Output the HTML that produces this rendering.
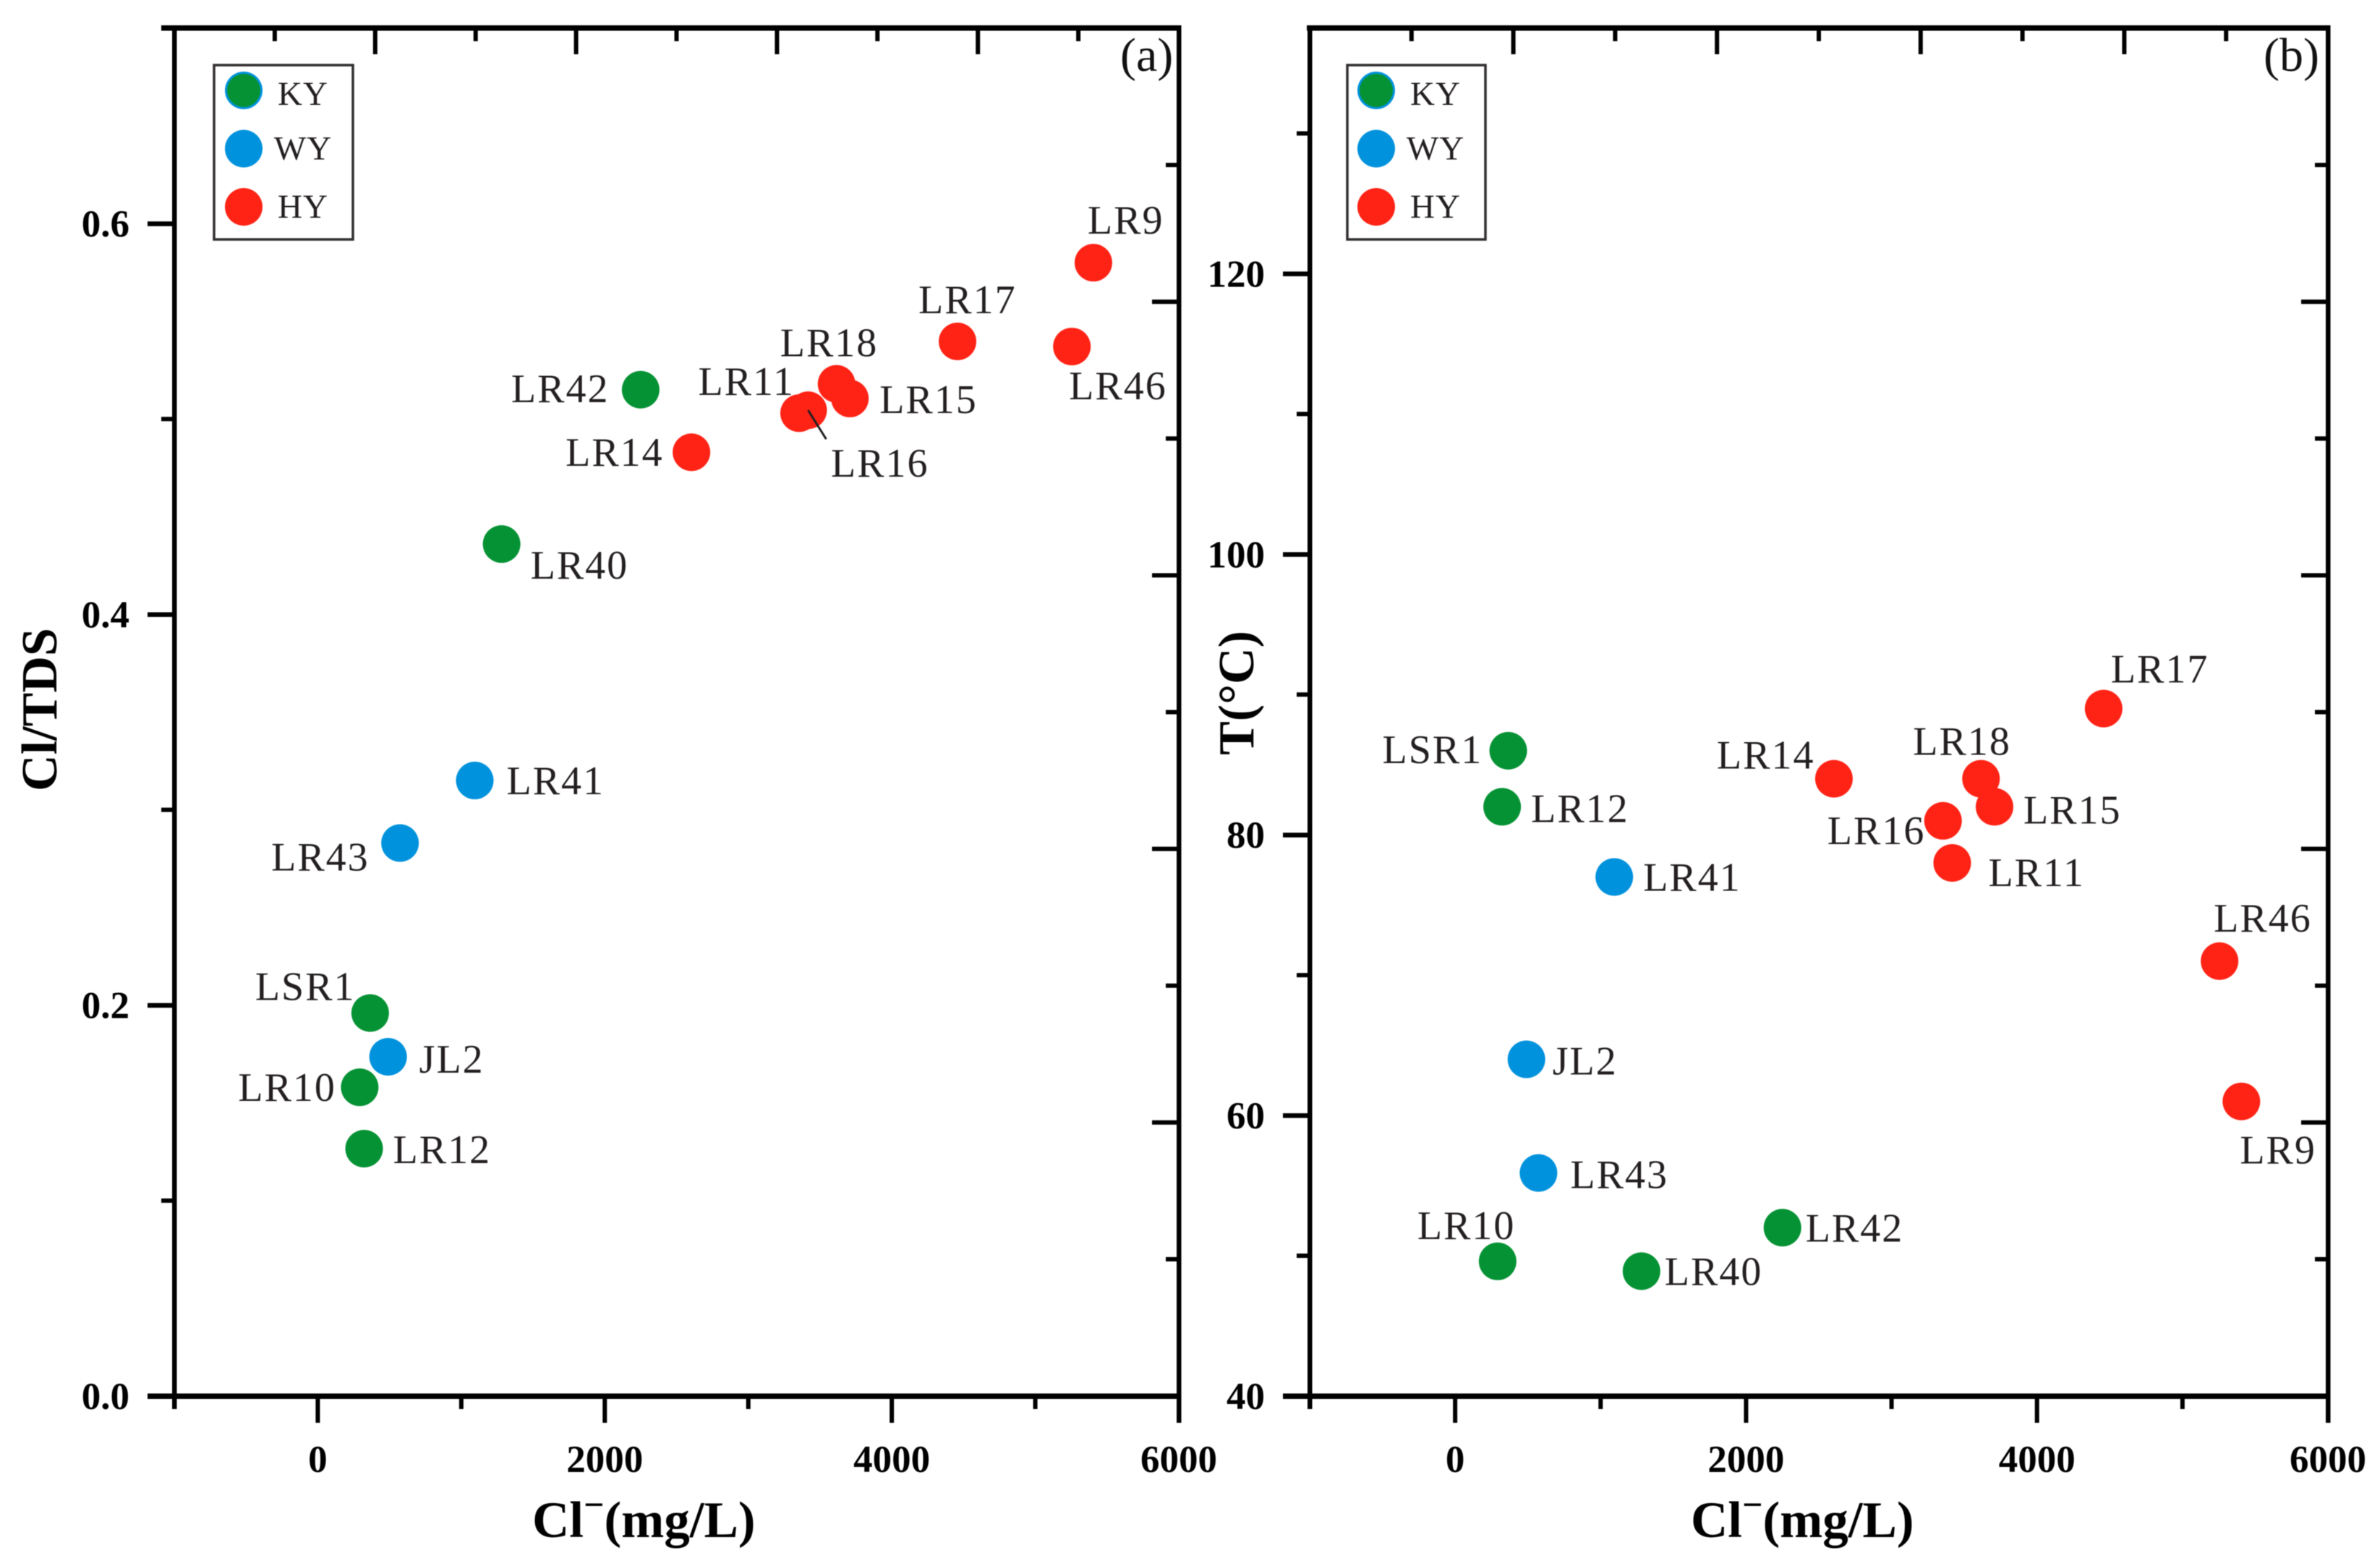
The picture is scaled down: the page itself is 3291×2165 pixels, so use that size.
<!DOCTYPE html>
<html lang="en">
<head>
<meta charset="utf-8">
<title>Cl/TDS and temperature versus chloride</title>
<style>
html,body{margin:0;padding:0;background:#fff;width:3291px;height:2165px;overflow:hidden}
svg{display:block;filter:blur(0.6px)}
text{font-family:"Liberation Serif",serif}
.tick-label{font-size:53px;font-weight:bold;fill:#000}
.axis-title{font-size:71px;font-weight:bold;fill:#000}
.point-label{font-size:56px;letter-spacing:2px;fill:#231f20}
.legend-text{font-size:47px;letter-spacing:1px;fill:#231f20}
.panel-tag{font-size:66px;fill:#111}
</style>
</head>
<body>
<svg id="chart" xmlns="http://www.w3.org/2000/svg" width="3291" height="2165" viewBox="0 0 3291 2165">
  <rect x="0" y="0" width="3291" height="2165" fill="#ffffff"/>
  <g id="panel-a"></g>
  <g id="panel-b"></g>
</svg>
<script>
// ---- data ----
const sites = ['LR9','LR17','LR46','LR18','LR15','LR11','LR16','LR14','LR42','LR40','LR41','LR43','JL2','LSR1','LR12','LR10'];
const siteTypes = ['HY','HY','HY','HY','HY','HY','HY','HY','KY','KY','WY','WY','WY','KY','KY','KY'];
const chloride = [5405,4458,5255,3615,3708,3417,3354,2604,2250,1281,1094,573,490,365,323,292];
const clTdsRatio = [0.580,0.5397,0.5371,0.518,0.5105,0.5045,0.503,0.483,0.515,0.436,0.315,0.283,0.1736,0.196,0.1266,0.158];
const temperature = [61,89,71,84,82,78,81,84,52,48.9,77,55.9,64,86,82,49.6];
const legendTypes = ['KY','WY','HY'];

// ---- tick values ----
const xMajorTicks = [0,2000,4000,6000];
const xMinorTicks = [-1000,1000,3000,5000];
const topMajorTicks = [400,1800,3200,4600];
const topMinorTicks = [-300,1100,2500,3900,5300];
const ratioMajorTicks = [0,0.2,0.4,0.6];
const ratioMajorLabels = ['0.0','0.2','0.4','0.6'];
const ratioMinorTicks = [0.1,0.3,0.5];
const ratioRightMajorTicks = [0.14,0.28,0.42,0.56];
const ratioRightMinorTicks = [0.07,0.21,0.35,0.49,0.63];
const tempMajorTicks = [40,60,80,100,120];
const tempMajorLabels = ['40','60','80','100','120'];
const tempMinorTicks = [50,70,90,110,130];
const tempRightMajorTicks = [59.5,79,98.5,118];
const tempRightMinorTicks = [49.75,69.25,88.75,108.25,127.75];

// ---- layout (not data) ----
const colors = {KY:'#059234', WY:'#0092dd', HY:'#ff2316'};
const legendBaselineOffset = {KY:20, WY:15, HY:15};
const labelPlacementA = {LR9:[-8,-40],LR17:[-54,-39],LR46:[-4,73],LR18:[-78,-38],LR15:[41,20],LR11:[-152,-21],LR16:[44,88],LR14:[-174,19],LR42:[-179,17],LR40:[40,48],LR41:[44,19],LR43:[-178,38],LSR1:[-159,-18],JL2:[43,22],LR10:[-168,19],LR12:[40,20]};
const labelPlacementB = {LR9:[-2,86],LR46:[-8,-41],LR17:[10,-36],LR18:[-94,-33],LR15:[40,23],LR14:[-162,-14],LR16:[-160,32],LR11:[50,32],LSR1:[-174,17],LR12:[40,21],LR41:[40,19],JL2:[36,21],LR43:[44,21],LR10:[-111,-31],LR42:[32,19],LR40:[32,19]};
const plotTop = 39, plotBottom = 1930;
const SVGNS = 'http://www.w3.org/2000/svg';

function make(parent, tag, attrs, content) {
  const el = document.createElementNS(SVGNS, tag);
  for (const k in attrs) el.setAttribute(k, attrs[k]);
  if (content !== undefined) el.textContent = content;
  parent.appendChild(el);
  return el;
}
function linearScale(d0, d1, r0, r1) {
  return v => r0 + (v - d0) * (r1 - r0) / (d1 - d0);
}

function drawPanel(cfg) {
  const g = document.getElementById(cfg.id);
  const x = linearScale(-1000, 6000, cfg.left, cfg.right);
  const y = linearScale(cfg.yMin, cfg.yMax, plotBottom, plotTop);

  // spines
  const topSpine = make(g, 'rect', {x: cfg.topSpineStart, y: plotTop-4, width: cfg.right+3-cfg.topSpineStart, height: 7.5, fill:'#000'});
  
  
  const bottomSpine = make(g, 'rect', {x: cfg.left-37, y: plotBottom-3.5, width: cfg.right+3-cfg.left+37, height: 7.5, fill:'#000'});
  
  
  const leftSpine = make(g, 'rect', {x: cfg.left-3, y: plotTop-4, width: 6.5, height: 1948-plotTop+4, fill:'#000'});
  
  
  const rightSpine = make(g, 'rect', {x: cfg.right-3, y: plotTop-4, width: 6.5, height: 1967-plotTop+4, fill:'#000'});
  
  

  // bottom ticks
  xMajorTicks.forEach(v => {
    const t = make(g, 'rect', {x: x(v)-3, y: plotBottom, width: 6, height: 37, fill:'#000'});
    
    
    const l = make(g, 'text', {x: x(v), y: 2035, 'text-anchor':'middle', class:'tick-label'}, String(v));
    
    
  });
  xMinorTicks.forEach(v => {
    const t = make(g, 'rect', {x: x(v)-3, y: plotBottom, width: 6, height: 18, fill:'#000'});
    
    
  });
  // top ticks
  topMajorTicks.forEach(v => {
    const t = make(g, 'rect', {x: x(v)-3, y: plotTop, width: 6, height: 36, fill:'#000'});
    
    
  });
  topMinorTicks.forEach(v => {
    const t = make(g, 'rect', {x: x(v)-3, y: plotTop, width: 6, height: 18, fill:'#000'});
    
    
  });
  // left ticks
  cfg.yMajor.forEach((v, i) => {
    const t = make(g, 'rect', {x: cfg.left-37, y: y(v)-3, width: 37, height: 6.5, fill:'#000'});
    
    
    const l = make(g, 'text', {x: cfg.left-62, y: y(v)+18, 'text-anchor':'end', class:'tick-label'}, cfg.yLabels[i]);
    
    
  });
  cfg.yMinor.forEach(v => {
    const t = make(g, 'rect', {x: cfg.left-18, y: y(v)-3, width: 18, height: 6, fill:'#000'});
    
    
  });
  // right ticks
  cfg.rightMajor.forEach(v => {
    const t = make(g, 'rect', {x: cfg.right-37, y: y(v)-3, width: 37, height: 6, fill:'#000'});
    
    
  });
  cfg.rightMinor.forEach(v => {
    const t = make(g, 'rect', {x: cfg.right-18, y: y(v)-3, width: 18, height: 6, fill:'#000'});
    
    
  });

  // axis titles
  const xt = make(g, 'text', {x: cfg.xTitleX, y: 2125, class:'axis-title'});
  
  
  make(xt, 'tspan', {}, 'Cl');
  make(xt, 'tspan', {dy: -28, style: 'font-size:50px'}, '\u2212');
  make(xt, 'tspan', {dy: 28}, '(mg/L)');
  const yt = make(g, 'text', {x: 0, y: 0, 'text-anchor':'middle', class:'axis-title', style:'font-size:70px', transform:'translate(' + cfg.yTitleX + ' ' + cfg.yTitleY + ') rotate(-90)'}, cfg.yTitle);
  
  

  // panel tag
  const tag = make(g, 'text', {x: cfg.tagX, y: 98, class:'panel-tag'}, cfg.tag);
  
  

  // legend
  const box = make(g, 'rect', {x: cfg.legendX, y: 90, width: cfg.legendW, height: 241, fill:'#fff', stroke:'#332f30', 'stroke-width': 3.5});
  
  
  legendTypes.forEach((type, i) => {
    const cy = 125 + i * 80.5;
    const cx = cfg.legendX + cfg.legendMarkerOffset;
    const halo = make(g, 'circle', {cx: cx, cy: cy, r: 26, fill: type === 'HY' ? colors.HY : colors.WY});
    
    
    if (type === 'KY') {
      const m = make(g, 'circle', {cx: cx, cy: cy, r: 23, fill: colors.KY});
      
      
    }
    const t = make(g, 'text', {x: cx + 82, y: cy + legendBaselineOffset[type], 'text-anchor':'middle', class:'legend-text'}, type);
    
    
  });

  // points
  sites.forEach((site, i) => {
    const c = make(g, 'circle', {cx: x(chloride[i]), cy: y(cfg.values[i]), r: 26, fill: colors[siteTypes[i]]});
    
    
  });
  // leader line for the crowded cluster in panel (a)
  if (cfg.leaderSite) {
    const i = sites.indexOf(cfg.leaderSite);
    const lx = x(chloride[i]), ly = y(cfg.values[i]);
    const leader = make(g, 'line', {x1: lx, y1: ly, x2: lx + 25, y2: ly + 40, stroke:'#231f20', 'stroke-width': 3});
    
    
  }
  // point labels
  sites.forEach((site, i) => {
    const p = cfg.placement[site];
    const t = make(g, 'text', {x: x(chloride[i]) + p[0], y: y(cfg.values[i]) + p[1], class:'point-label'}, site);
    
    
  });
}

drawPanel({
  id:'panel-a', left:241, right:1630, yMin:0, yMax:0.7, values:clTdsRatio,
  yMajor:ratioMajorTicks, yLabels:ratioMajorLabels, yMinor:ratioMinorTicks,
  rightMajor:ratioRightMajorTicks, rightMinor:ratioRightMinorTicks,
  topSpineStart:223, xTitleX:736, yTitle:'Cl/TDS', yTitleX:78, yTitleY:981,
  tag:'(a)', tagX:1549, legendX:296, legendW:192, legendMarkerOffset:41,
  placement:labelPlacementA, leaderSite:'LR11'
});
drawPanel({
  id:'panel-b', left:1811, right:3219, yMin:40, yMax:137.5, values:temperature,
  yMajor:tempMajorTicks, yLabels:tempMajorLabels, yMinor:tempMinorTicks,
  rightMajor:tempRightMajorTicks, rightMinor:tempRightMinorTicks,
  topSpineStart:1807, xTitleX:2338, yTitle:'T(\u00B0C)', yTitleX:1733, yTitleY:958,
  tag:'(b)', tagX:3130, legendX:1863, legendW:191, legendMarkerOffset:40,
  placement:labelPlacementB, leaderSite:null
});
</script>
</body>
</html>
